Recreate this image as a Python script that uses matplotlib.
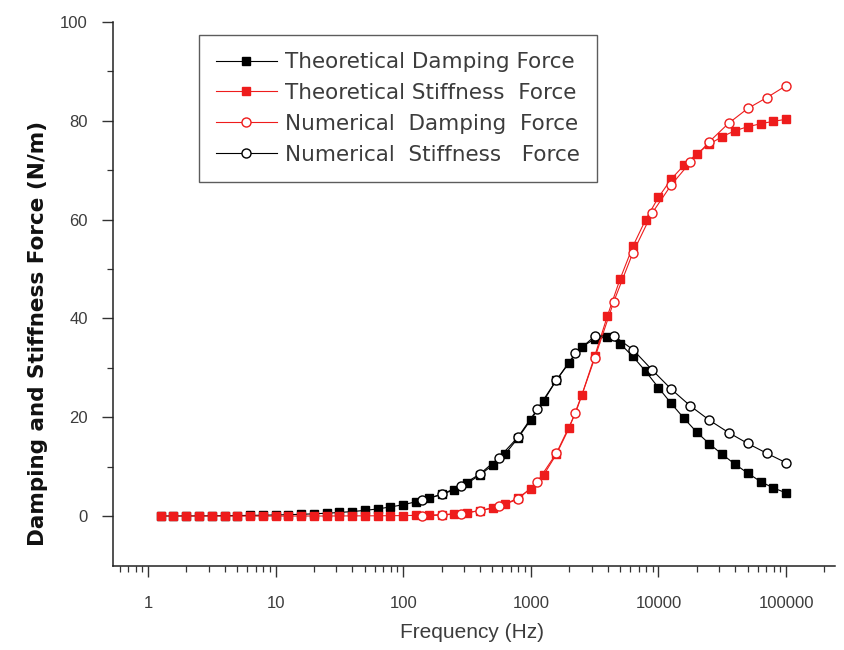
import matplotlib
matplotlib.use("Agg")
import matplotlib.pyplot as plt
from matplotlib.ticker import LogLocator, FixedLocator, NullFormatter, FuncFormatter

plt.rcParams['font.family'] = ['Liberation Sans', 'DejaVu Sans']

# frequencies of the theoretical curves (Hz)
freq_theory = [1.26, 1.58, 2.0, 2.51, 3.16, 3.98, 5.01, 6.31, 7.94, 10,
               12.6, 15.8, 20.0, 25.1, 31.6, 39.8, 50.1, 63.1, 79.4, 100,
               126, 158, 200, 251, 316, 398, 501, 631, 794, 1000,
               1259, 1585, 1995, 2512, 3162, 3981, 5012, 6310, 7943, 10000,
               12589, 15849, 19953, 25119, 31623, 39811, 50119, 63096, 79433, 100000]

# frequencies of the numerical points (Hz)
freq_num = [141, 200, 282, 398, 562, 794, 1122, 1585, 2239, 3162,
            4467, 6310, 8913, 12589, 17783, 25119, 35481, 50119, 70795, 100000]

theory_damping = [0.02, 0.03, 0.04, 0.05, 0.07, 0.09, 0.11, 0.14, 0.18, 0.23,
                  0.29, 0.36, 0.46, 0.58, 0.73, 0.92, 1.15, 1.45, 1.85, 2.3,
                  2.9, 3.6, 4.4, 5.3, 6.6, 8.3, 10.3, 12.6, 15.8, 19.5,
                  23.3, 27.5, 31.0, 34.3, 35.8, 36.3, 34.9, 32.3, 29.3, 26.0,
                  22.8, 19.8, 17.0, 14.6, 12.5, 10.5, 8.7, 7.0, 5.7, 4.7]

theory_stiffness = [0.0, 0.0, 0.0, 0.0, 0.0, 0.0, 0.0, 0.0, 0.0, 0.0,
                    0.01, 0.01, 0.02, 0.02, 0.03, 0.04, 0.05, 0.06, 0.08, 0.1,
                    0.15, 0.2, 0.3, 0.45, 0.7, 1.1, 1.6, 2.4, 3.7, 5.5,
                    8.3, 12.5, 17.8, 24.5, 32.3, 40.5, 48.0, 54.6, 60.0, 64.5,
                    68.2, 71.0, 73.3, 75.3, 76.8, 78.0, 78.8, 79.4, 79.9, 80.3]

num_damping = [0.0, 0.2, 0.5, 1.1, 2.0, 3.4, 6.9, 12.7, 20.8, 31.9,
               43.4, 53.3, 61.3, 67.0, 71.6, 75.8, 79.5, 82.5, 84.7, 87.1]

num_stiffness = [3.2, 4.4, 6.1, 8.5, 11.8, 16.0, 21.6, 27.5, 33.0, 36.4,
                 36.5, 33.7, 29.6, 25.7, 22.3, 19.4, 16.9, 14.7, 12.7, 10.8]

labels = ['Theoretical Damping Force', 'Theoretical Stiffness  Force',
          'Numerical  Damping  Force', 'Numerical  Stiffness   Force']

RED = '#ee1c1c'
TXT = '#3c3c3c'

fig = plt.figure(figsize=(8.45, 6.5), dpi=100)
ax = fig.add_axes([113 / 845, 1 - 565.5 / 650, 722 / 845, 543.5 / 650])

ax.plot(freq_theory, theory_damping, color='black', lw=0.8, marker='s',
        ms=6, mec='black', mfc='black', label=labels[0], zorder=3)
ax.plot(freq_theory, theory_stiffness, color=RED, lw=0.8, marker='s',
        ms=6, mec=RED, mfc=RED, label=labels[1], zorder=3)
ax.plot(freq_num, num_damping, color=RED, lw=0.8, marker='o',
        ms=6.5, mec=RED, mfc='white', mew=1.0, label=labels[2], zorder=4)
ax.plot(freq_num, num_stiffness, color='black', lw=0.8, marker='o',
        ms=6.5, mec='black', mfc='white', mew=1.0, label=labels[3], zorder=4)

ax.set_xscale('log')
ax.set_xlim(0.532, 2.42e5)
ax.set_ylim(-10, 100)

ax.xaxis.set_major_locator(FixedLocator([1, 10, 100, 1000, 10000, 100000]))
ax.xaxis.set_major_formatter(FuncFormatter(lambda v, p: '%d' % round(v)))
ax.xaxis.set_minor_locator(LogLocator(base=10, subs=range(2, 10), numticks=20))
ax.xaxis.set_minor_formatter(NullFormatter())

ax.set_yticks([0, 20, 40, 60, 80, 100])
ax.set_yticks([10, 30, 50, 70, 90], minor=True)

for s in ['top', 'right']:
    ax.spines[s].set_visible(False)
for s in ['left', 'bottom']:
    ax.spines[s].set_linewidth(1.1)
    ax.spines[s].set_color('#222222')

ax.tick_params(axis='both', which='major', direction='out', length=8,
               width=1.0, color='#333333', labelsize=12, labelcolor=TXT)
ax.tick_params(axis='both', which='minor', direction='out', length=4.5,
               width=0.9, color='#333333')
ax.tick_params(axis='x', which='major', pad=14)
ax.tick_params(axis='y', which='major', pad=10)

fig.text(38 / 845, 1 - 333 / 650, 'Damping and Stiffness Force (N/m)',
         rotation=90, ha='center', va='center', fontsize=15.5,
         fontweight='bold', color='#111111', family='DejaVu Sans')
fig.text(472 / 845, 1 - 633 / 650, 'Frequency (Hz)', ha='center',
         va='center', fontsize=15, color=TXT)

leg = ax.legend(loc='upper left', bbox_to_anchor=(199 / 845, 1 - 35 / 650),
                bbox_transform=fig.transFigure, frameon=True, fancybox=False,
                prop={'family': 'DejaVu Sans', 'size': 15.5},
                handlelength=2.8, handletextpad=0.4,
                labelspacing=0.5, borderpad=0.8, borderaxespad=0)
leg.get_frame().set_edgecolor('#333333')
leg.get_frame().set_linewidth(1.0)
for t in leg.get_texts():
    t.set_color(TXT)

fig.savefig('out.png', dpi=100)
